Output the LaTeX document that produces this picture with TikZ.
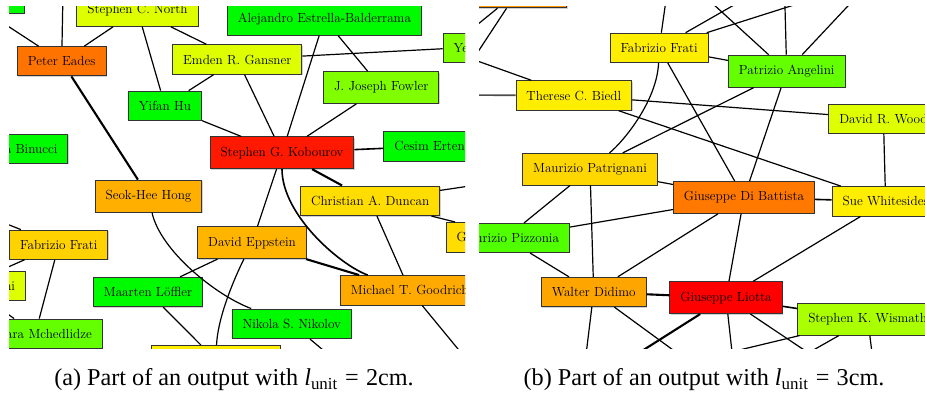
\documentclass[tikz,border=0pt]{standalone}
\usepackage{fontspec}
\newfontfamily\captfont{Liberation Serif}
\usepackage{tikz}
\usetikzlibrary{shadows}
\definecolor{color-green}{RGB}{0,250,0}
\definecolor{color-lime}{RGB}{128,255,0}
\definecolor{color-yg}{RGB}{221,255,0}
\definecolor{color-mched}{RGB}{100,255,0}
\definecolor{color-pizzonia}{RGB}{80,255,0}
\definecolor{color-wismath}{RGB}{170,255,0}
\definecolor{color-eades}{RGB}{255,115,0}
\definecolor{color-red}{RGB}{255,25,0}
\definecolor{color-liotta}{RGB}{255,0,0}
\definecolor{color-hong}{RGB}{255,175,0}
\definecolor{color-eppstein}{RGB}{255,180,0}
\definecolor{color-goodrich}{RGB}{255,170,0}
\definecolor{color-didimo}{RGB}{255,165,0}
\definecolor{color-gold}{RGB}{255,221,0}
\definecolor{color-frati}{RGB}{255,210,0}
\definecolor{color-patrignani}{RGB}{255,215,0}
\definecolor{color-yellow}{RGB}{255,238,0}
\definecolor{color-dibattista}{RGB}{255,120,0}
\definecolor{color-top}{RGB}{255,150,0}

\begin{document}
\begin{tikzpicture}[x=1pt, y=-1pt,
person/.style={draw=black!80, line width=0.9pt, fill=#1, inner xsep=10.5pt, inner ysep=10pt,
  font=\fontsize{13.2}{15}\selectfont,
  drop shadow={shadow xshift=0.9pt, shadow yshift=-0.9pt, fill=black!35}},
link/.style={line width=1.2pt},
mid/.style={line width=1.6pt},
heavy/.style={line width=2.1pt},
caption/.style={font=\captfont\fontsize{24.2}{28}\selectfont, anchor=base}]
\useasboundingbox (0,0) rectangle (925,393);

% (a) l_unit = 2cm
\begin{scope}
\clip (9,7) rectangle (465,348);
% persons
\node[person=color-green, minimum width=60pt, minimum height=29pt, anchor=south east] (corner) at (25,14) {};
\node[person=color-yg] (north) at (137.5,10.4) {Stephen C. North};
\node[person=color-green] (balderrama) at (324.4,19.1) {Alejandro Estrella-Balderrama};
\node[person=color-lime, anchor=west] (ye) at (442.7,47.8) {Ye};
\node[person=color-eades] (eades) at (61.7,61.3) {Peter Eades};
\node[person=color-yg] (gansner) at (237.3,59.5) {Emden R. Gansner};
\node[person=color-green] (hu) at (165,105.8) {Yifan Hu};
\node[person=color-lime] (fowler) at (381.2,87.5) {J. Joseph Fowler};
\node[person=color-green, anchor=east] (binucci) at (68.3,148.7) {a Binucci};
\node[person=color-red] (kobourov) at (282,152.8) {Stephen G. Kobourov};
\node[person=color-green, anchor=west] (erten) at (383.3,146.3) {Cesim Erten};
\node[person=color-hong] (hong) at (148.5,196.1) {Seok-Hee Hong};
\node[person=color-gold] (duncan) at (370.2,200.8) {Christian A. Duncan};
\node[person=color-gold, text width=119pt, align=left] (dibattista) at (516,237.2) {G};
\node[person=color-frati] (frati) at (58.8,244.7) {Fabrizio Frati};
\node[person=color-yg, text width=101pt, align=right, anchor=east] (angelini) at (26,286.2) {ni};
\node[person=color-eppstein] (eppstein) at (252,242.8) {David Eppstein};
\node[person=color-green] (loffler) at (148,292) {Maarten Löffler};
\node[person=color-mched, text width=113pt, align=right, anchor=east] (mchedlidze) at (102.7,333.7) {ara Mchedlidze};
\node[person=color-yellow, minimum width=128.3pt, minimum height=29pt, anchor=north] (bottombox) at (215.8,345) {};
\node[person=color-green] (nikolov) at (291.8,323.8) {Nikola S. Nikolov};
\node[person=color-goodrich, anchor=west] (goodrich) at (340,290.3) {Michael T. Goodrich};

% ends outside the part
\coordinate (ea1) at (-30,1.3);
\coordinate (ea2) at (63.4,-30);
\coordinate (du1) at (520,178.5);
\coordinate (ff1) at (-30,209.4);
\coordinate (mc1) at (-20,294.2);
\coordinate (nk1) at (358.7,380);
\coordinate (gd1) at (483.5,380);

% co-authorships
\draw[link] (eades) -- (ea1);
\draw[link] (eades) -- (ea2);
\draw[link] (eades) -- (north);
\draw[heavy] (eades) -- (hong);
\draw[link] (north) -- (hu);
\draw[link] (north) -- (gansner);
\draw[link] (gansner) -- (hu);
\draw[link] (gansner) -- (ye);
\draw[link] (gansner) -- (kobourov);
\draw[link] (hu) -- (kobourov);
\draw[link] (balderrama) -- (kobourov);
\draw[link] (balderrama) -- (fowler);
\draw[link] (fowler) -- (kobourov);
\draw[mid] (kobourov) -- (erten);
\draw[heavy] (kobourov) -- (duncan);
\draw[link] (kobourov) -- (eppstein);
\draw[mid] (kobourov) .. controls (282,215) and (340,265) .. (goodrich);
\draw[link] (duncan) -- (du1);
\draw[link] (duncan) -- (dibattista);
\draw[link] (duncan) -- (goodrich);
\draw[heavy] (eppstein) -- (goodrich);
\draw[link] (eppstein) -- (loffler);
\draw[link] (eppstein) .. controls (236,275) and (218,315) .. (bottombox);
\draw[link] (hong) .. controls (160,250) and (215,295) .. (nikolov);
\draw[link] (loffler) -- (bottombox);
\draw[link] (frati) -- (ff1);
\draw[link] (frati) -- (angelini);
\draw[link] (frati) -- (mchedlidze);
\draw[link] (mchedlidze) -- (mc1);
\draw[link] (nikolov) -- (nk1);
\draw[link] (goodrich) -- (gd1);
\end{scope}

% (b) l_unit = 3cm
\begin{scope}
\clip (479,7) rectangle (925,348);
% persons
\node[person=color-top, minimum width=99.4pt, minimum height=31pt, anchor=south] (topbox) at (517,8.3) {};
\node[person=color-yellow] (biedl) at (573.8,95.5) {Therese C. Biedl};
\node[person=color-yellow] (frati-b) at (659.2,47.8) {Fabrizio Frati};
\node[person=color-mched] (angelini-b) at (786.7,71.2) {Patrizio Angelini};
\node[person=color-yg, anchor=west] (wood) at (828.3,118.7) {David R. Wood};
\node[person=color-patrignani] (patrignani) at (590,169.2) {Maurizio Patrignani};
\node[person=color-dibattista] (dibattista-b) at (744,197.5) {Giuseppe Di Battista};
\node[person=color-yellow, anchor=west] (whitesides) at (831.7,201.3) {Sue Whitesides};
\node[person=color-pizzonia, text width=107pt, align=right, anchor=east] (pizzonia) at (570,238) {urizio Pizzonia};
\node[person=color-didimo] (didimo) at (593.7,292) {Walter Didimo};
\node[person=color-liotta] (liotta) at (726,297.7) {Giuseppe Liotta};
\node[person=color-wismath, anchor=west] (wismath) at (797.3,319.2) {Stephen K. Wismath};

% ends outside the part
\coordinate (ob1) at (440,109.6);
\coordinate (ob2) at (440,55.1);
\coordinate (bd1) at (440,47.6);
\coordinate (bd2) at (440,95);
\coordinate (fr1) at (670.3,-30);
\coordinate (fr2) at (795.2,-30);
\coordinate (fr3) at (904.1,-30);
\coordinate (pa1) at (675.8,-30);
\coordinate (pa2) at (784,-30);
\coordinate (pa3) at (881.7,-30);
\coordinate (wd1) at (582.9,380);
\coordinate (wd2) at (714.1,380);
\coordinate (gl1) at (596,380);
\coordinate (gl2) at (735.1,380);
\coordinate (gl3) at (849,380);
\coordinate (sw1) at (760.5,380);
\coordinate (sw2) at (614.3,380);
\coordinate (sw3) at (875.5,380);

% co-authorships
\draw[link] (topbox) -- (ob1);
\draw[link] (topbox) -- (ob2);
\draw[link] (biedl) -- (bd1);
\draw[mid, black!70] (biedl) -- (bd2);
\draw[link] (frati-b) -- (fr1);
\draw[link] (frati-b) -- (fr2);
\draw[link] (frati-b) -- (fr3);
\draw[link] (frati-b) -- (angelini-b);
\draw[link] (frati-b) .. controls (657,100) and (625,140) .. (patrignani);
\draw[link] (frati-b) -- (dibattista-b);
\draw[link] (angelini-b) -- (pa1);
\draw[link] (angelini-b) -- (pa2);
\draw[link] (angelini-b) -- (pa3);
\draw[link] (angelini-b) -- (patrignani);
\draw[link] (angelini-b) -- (dibattista-b);
\draw[link] (biedl) -- (wood);
\draw[link] (biedl) -- (whitesides);
\draw[link] (wood) -- (whitesides);
\draw[link] (patrignani) -- (dibattista-b);
\draw[link] (patrignani) -- (pizzonia);
\draw[link] (patrignani) -- (didimo);
\draw[link] (pizzonia) -- (dibattista-b);
\draw[link] (pizzonia) -- (didimo);
\draw[mid] (dibattista-b) -- (whitesides);
\draw[link] (dibattista-b) -- (didimo);
\draw[link] (dibattista-b) -- (liotta);
\draw[link] (whitesides) -- (liotta);
\draw[heavy] (didimo) -- (liotta);
\draw[mid] (liotta) -- (wismath);
\draw[link] (didimo) -- (wd1);
\draw[link] (didimo) -- (wd2);
\draw[heavy] (liotta) -- (gl1);
\draw[link] (liotta) -- (gl2);
\draw[link] (liotta) -- (gl3);
\draw[link] (wismath) -- (sw1);
\draw[link] (wismath) -- (sw2);
\draw[link] (wismath) -- (sw3);
\end{scope}

% captions
\node[caption] (capa) at (234,385.3) {(a) Part of an output with \textit{l}\textsubscript{unit}\hspace{0.3em}=\hspace{0.3em}2cm.};
\node[caption] (capb) at (704,385.3) {(b) Part of an output with \textit{l}\textsubscript{unit}\hspace{0.3em}=\hspace{0.3em}3cm.};
\end{tikzpicture}
\end{document}
